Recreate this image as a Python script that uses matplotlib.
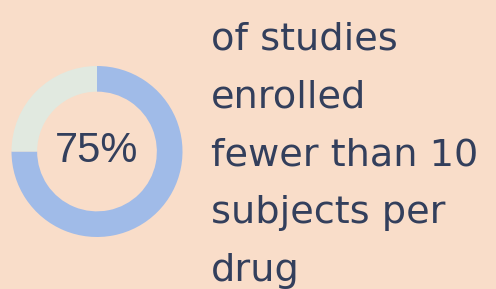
import matplotlib.pyplot as plt

# data
share = [75, 25]
labels = ['fewer than 10', 'other']
center_label = '75%'
text_lines = ['of studies', 'enrolled', 'fewer than 10', 'subjects per', 'drug']

bg = '#F9DDC9'
colors = ['#A0BBE8', '#E1E9E0']
ink = '#333F5C'

W, H = 496, 289
fig = plt.figure(figsize=(W / 100, H / 100), dpi=100)
fig.patch.set_facecolor(bg)

# donut axes, centre (97, 151.5) px, radius 85.5 px
cx, cy, r = 97, 151.5, 85.5
ax = fig.add_axes([(cx - r) / W, (H - cy - r) / H, 2 * r / W, 2 * r / H])
ax.pie(share, colors=colors, startangle=90, counterclock=False, radius=1,
       wedgeprops=dict(width=0.30, edgecolor='none'))
ax.set_xlim(-1, 1)
ax.set_ylim(-1, 1)
ax.set_aspect('equal')
ax.axis('off')
ax.text(0, 0, center_label, ha='center', va='center', fontsize=30,
        color=ink, family='Liberation Sans')

# right-hand caption, one line each
x0 = 211 / W
for i, line in enumerate(text_lines):
    y = (H - (49 + i * 58)) / H
    fig.text(x0, y, line, ha='left', va='baseline', fontsize=27.5,
             color=ink, family='DejaVu Sans')

fig.savefig('out.png', dpi=100, facecolor=bg)
